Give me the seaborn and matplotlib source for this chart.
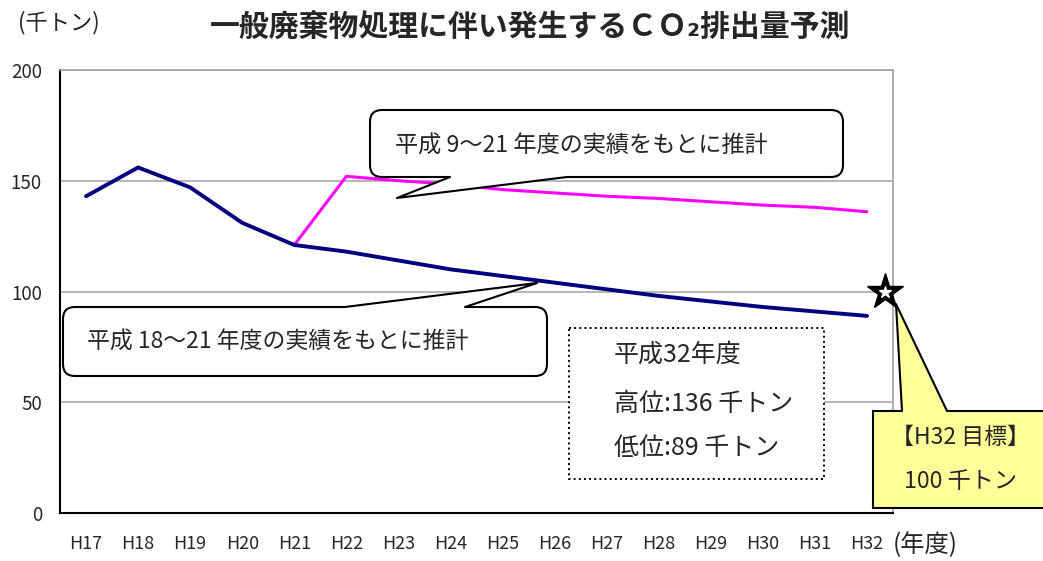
import numpy as np
import pandas as pd
import seaborn as sns
import matplotlib.pyplot as plt
from matplotlib.patches import FancyBboxPatch, Polygon, Rectangle
from matplotlib.lines import Line2D
from matplotlib.transforms import Affine2D

# data (千トン)
years = ["H17", "H18", "H19", "H20", "H21", "H22", "H23", "H24",
         "H25", "H26", "H27", "H28", "H29", "H30", "H31", "H32"]
low_case = [143, 156, 147, 131, 121, 118, 114, 110, 107, 104, 101, 98, 95.5, 93, 91, 89]
high_case = [np.nan, np.nan, np.nan, np.nan, 121, 152, 150, 148.5, 146, 144.5,
             143, 142, 140.5, 139, 138, 136]
target_value = 100
yticks = [0, 50, 100, 150, 200]

W, H = 1043, 561

sns.set_style("white")
plt.rcParams['font.family'] = ['Noto Sans CJK JP', 'DejaVu Sans']

df = pd.DataFrame({"pos": np.arange(len(years)), "year": years,
                   "low": low_case, "high": high_case})

fig = plt.figure(figsize=(W / 100, H / 100), dpi=100)
ax = fig.add_axes([60 / W, (H - 513) / H, (893 - 60) / W, (513 - 70) / H])

sns.lineplot(data=df.dropna(subset=["high"]), x="pos", y="high",
             color="#FF00FF", lw=2.2, ax=ax, zorder=3)
sns.lineplot(data=df, x="pos", y="low", color="#000080", lw=2.8, ax=ax, zorder=3)

# target star
ax.plot(15.35, target_value, marker="*", ms=27, color="black", clip_on=False, zorder=6)
ax.plot(15.35, target_value, marker="*", ms=9, color="white", clip_on=False, zorder=7)

ax.set_xlim(-0.5, len(years) - 0.5)
ax.set_ylim(0, 200)
ax.set_xlabel("")
ax.set_ylabel("")
ax.set_xticks(df.pos)
ax.set_xticklabels(years, fontsize=13)
ax.set_xticks(np.arange(0.5, len(years) - 1, 1), minor=True)
ax.tick_params(axis="x", which="major", length=0, pad=16)
ax.tick_params(axis="x", which="minor", direction="in", length=5, width=1, color="black")
ax.set_yticks(yticks)
ax.set_yticklabels([str(v) for v in yticks], fontsize=13.5)
ax.tick_params(axis="y", direction="out", length=5, width=1, color="black", pad=8)
ax.yaxis.grid(True, color="#B0B0B0", lw=1.3)
ax.set_axisbelow(True)
for s in ["left", "bottom"]:
    ax.spines[s].set_color("black")
    ax.spines[s].set_linewidth(1.5)
for s in ["top", "right"]:
    ax.spines[s].set_color("#A0A0A0")
    ax.spines[s].set_linewidth(1.2)

# pixel coordinates (origin top-left) for the annotations
pix = Affine2D().scale(1 / 100, -1 / 100).translate(0, H / 100) + fig.dpi_scale_trans


def callout(x0, y0, x1, y1, base, tip, inward, face="white", rounded=True):
    if rounded:
        box = FancyBboxPatch((x0, y0), x1 - x0, y1 - y0,
                             boxstyle="round,pad=0,rounding_size=12",
                             transform=pix, fc=face, ec="black", lw=1.5, zorder=4)
    else:
        box = Rectangle((x0, y0), x1 - x0, y1 - y0, transform=pix,
                        fc=face, ec="black", lw=1.5, zorder=4)
    fig.add_artist(box)
    (bx0, by0), (bx1, by1) = base
    poly = Polygon([(bx0, by0), tip, (bx1, by1), (bx1, by1 + inward), (bx0, by0 + inward)],
                   closed=True, transform=pix, fc=face, ec="none", zorder=5)
    fig.add_artist(poly)
    fig.add_artist(Line2D([bx0, tip[0], bx1], [by0, tip[1], by1], transform=pix,
                          color="black", lw=1.5, zorder=6))


callout(370, 110, 843, 177, [(450, 177), (567, 177)], (397, 198), -3)
fig.text(395, 146, "平成 9～21 年度の実績をもとに推計", transform=pix,
         ha="left", va="center", fontsize=16.7, zorder=7)

callout(63, 307, 547, 376, [(345, 307), (465, 307)], (537, 283), 3)
fig.text(87, 342, "平成 18～21 年度の実績をもとに推計", transform=pix,
         ha="left", va="center", fontsize=16.5, zorder=7)

callout(873, 411, 1060, 508, [(902, 411), (947, 411)], (896, 304), 3,
        face="#FFFF99", rounded=False)
fig.text(960, 437, "【H32 目標】", transform=pix, ha="center", va="center",
         fontsize=16.5, zorder=7)
fig.text(960, 481, f"{target_value} 千トン", transform=pix, ha="center", va="center",
         fontsize=16.7, zorder=7)

# dotted summary box
fig.add_artist(Rectangle((569, 328), 255, 151, transform=pix, fc="white",
                         ec="black", ls=":", lw=1.4, zorder=4))
fig.text(614, 355, "平成32年度", transform=pix, ha="left", va="center", fontsize=18, zorder=7)
fig.text(614, 404, f"高位:{high_case[-1]:.0f} 千トン", transform=pix, ha="left",
         va="center", fontsize=18, zorder=7)
fig.text(614, 448, f"低位:{low_case[-1]:.0f} 千トン", transform=pix, ha="left",
         va="center", fontsize=18, zorder=7)

# titles and units
fig.text(530, 28, "一般廃棄物処理に伴い発生するＣＯ₂排出量予測", transform=pix,
         ha="center", va="center", fontsize=21.5, fontweight="bold")
fig.text(18, 23, "(千トン)", transform=pix, ha="left", va="center", fontsize=16)
fig.text(893, 545, "(年度)", transform=pix, ha="left", va="center", fontsize=17.5)

fig.savefig("out.png", dpi=100)
